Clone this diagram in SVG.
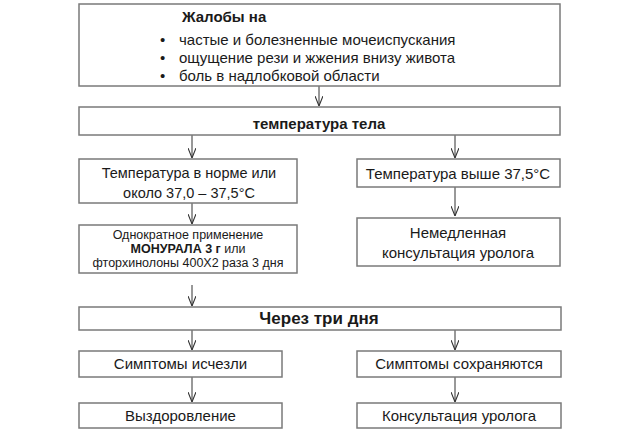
<svg xmlns="http://www.w3.org/2000/svg" width="640" height="432" viewBox="0 0 640 432">
<defs>
<style>
.box{fill:#fff;stroke:#7a7a7a;stroke-width:1.5}
.t{font-family:"Liberation Sans",Arial,sans-serif;fill:#1a1a1a;font-size:15px}
.c{text-anchor:middle}
.b{font-weight:bold}
.s{font-size:12.5px}
.ln{stroke:#333;stroke-width:1;fill:none;marker-end:url(#ah)}
</style>
<marker id="ah" viewBox="0 0 10 8" refX="10" refY="4" markerWidth="10" markerHeight="8" markerUnits="userSpaceOnUse" orient="auto">
<path d="M0,0 L10,4 L0,8" fill="none" stroke="#333" stroke-width="1.1"/>
</marker>
</defs>
<rect width="640" height="432" fill="#fff"/>
<g id="connectors">
<line class="ln" x1="319" y1="86" x2="319" y2="106"/>
<line class="ln" x1="192" y1="135" x2="192" y2="158"/>
<line class="ln" x1="455" y1="135" x2="455" y2="158"/>
<line class="ln" x1="192" y1="203" x2="192" y2="224"/>
<line class="ln" x1="455" y1="187" x2="455" y2="216"/>
<line class="ln" x1="192" y1="285" x2="192" y2="306"/>
<line class="ln" x1="192" y1="330" x2="192" y2="350"/>
<line class="ln" x1="455" y1="330" x2="455" y2="350"/>
<line class="ln" x1="192" y1="377" x2="192" y2="402"/>
<line class="ln" x1="455" y1="377" x2="455" y2="402"/>
</g>
<g id="complaints">
<rect class="box" x="79" y="4" width="481" height="82"/>
<text class="t b" x="182" y="22">Жалобы на</text>
<text class="t" x="160" y="45">•</text>
<text class="t" x="179" y="45">частые и болезненные мочеиспускания</text>
<text class="t" x="160" y="63">•</text>
<text class="t" x="179" y="63">ощущение рези и жжения внизу живота</text>
<text class="t" x="160" y="81">•</text>
<text class="t" x="179" y="81">боль в надлобковой области</text>
</g>
<g id="temp">
<rect class="box" x="79" y="107" width="481" height="28"/>
<text class="t b c" x="319" y="129">температура тела</text>
</g>
<g id="normal">
<rect class="box" x="79" y="159" width="218" height="44"/>
<text class="t c" x="189" y="178" style="font-size:14.5px">Температура в норме или</text>
<text class="t c" x="189" y="198" style="font-size:14.5px">около 37,0 – 37,5°С</text>
</g>
<g id="high">
<rect class="box" x="357" y="159" width="203" height="28"/>
<text class="t c" x="458" y="179">Температура выше 37,5°С</text>
</g>
<g id="monural">
<rect class="box" x="79" y="225" width="218" height="48"/>
<text class="t s c" x="188" y="239">Однократное применение</text>
<text class="t s c" x="188" y="253"><tspan class="b">МОНУРАЛА 3 г</tspan> или</text>
<text class="t s c" x="188" y="267">фторхинолоны 400Х2 раза 3 дня</text>
</g>
<g id="urgent">
<rect class="box" x="357" y="218" width="203" height="48"/>
<text class="t c" x="458" y="238">Немедленная</text>
<text class="t c" x="458" y="258">консультация уролога</text>
</g>
<g id="three-days">
<rect class="box" x="79" y="307" width="482" height="23"/>
<text class="t b c" x="319" y="324" style="font-size:17px">Через три дня</text>
</g>
<g id="gone">
<rect class="box" x="79" y="351" width="203" height="26"/>
<text class="t c" x="180.5" y="369">Симптомы исчезли</text>
</g>
<g id="persist">
<rect class="box" x="357" y="351" width="204" height="26"/>
<text class="t c" x="459" y="369">Симптомы сохраняются</text>
</g>
<g id="recovery">
<rect class="box" x="79" y="403" width="203" height="25"/>
<text class="t c" x="180.5" y="421">Выздоровление</text>
</g>
<g id="consult">
<rect class="box" x="357" y="403" width="204" height="25"/>
<text class="t c" x="459" y="421">Консультация уролога</text>
</g>
</svg>
